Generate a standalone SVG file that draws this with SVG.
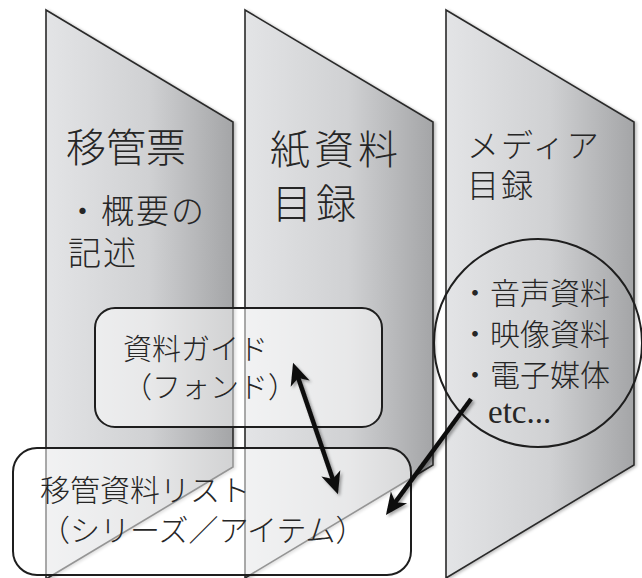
<svg xmlns="http://www.w3.org/2000/svg" width="642" height="578" viewBox="0 0 642 578">
<style>
.panel{fill:url(#pg);stroke:#2b2b2b;stroke-width:1.6;stroke-linejoin:miter}
.t{font-family:"Noto Sans CJK JP","Noto Sans CJK SC",sans-serif;fill:#262626;font-weight:300}
.lat{font-family:"Liberation Serif",serif;fill:#262626}
.box{fill:#ffffff;fill-opacity:0.5;stroke:#1e1e1e;stroke-width:2}
.ring{fill:none;stroke:#1e1e1e;stroke-width:2}
.conn{fill:none;stroke:#111;stroke-width:4.5;marker-end:url(#ah);filter:url(#sh)}
</style>
<defs>
<linearGradient id="pg" x1="0" y1="0" x2="1" y2="0">
<stop offset="0" stop-color="#e3e4e6"/>
<stop offset="0.55" stop-color="#d0d1d3"/>
<stop offset="1" stop-color="#a4a5a7"/>
</linearGradient>
<filter id="sh" x="-20%" y="-20%" width="140%" height="140%">
<feDropShadow dx="2" dy="2" stdDeviation="1.8" flood-color="#000" flood-opacity="0.35"/>
</filter>
<filter id="psh" x="-10%" y="-10%" width="120%" height="120%">
<feDropShadow dx="2" dy="1" stdDeviation="1.5" flood-color="#000" flood-opacity="0.25"/>
</filter>
<marker id="ah" viewBox="-18 -12 25 24" markerWidth="25" markerHeight="24" refX="0" refY="0" orient="auto-start-reverse" markerUnits="userSpaceOnUse">
<path d="M6,0 L-16,-10 L-10,0 L-16,10 Z" fill="#111"/>
</marker>
</defs>
<rect width="642" height="578" fill="#ffffff"/>

<g id="panel-transfer-form">
<path class="panel" filter="url(#psh)" d="M46,10 L233,122 L233,467 L46,579 Z"/>
<text class="t" x="66" y="162" font-size="40">移管票</text>
<text class="t" x="66" y="223" font-size="33" letter-spacing="2">・概要の</text>
<text class="t" x="68" y="265" font-size="33" letter-spacing="2">記述</text>
</g>

<g id="panel-paper-catalog">
<path class="panel" filter="url(#psh)" d="M245,10 L433,122 L433,465 L245,578 Z"/>
<text class="t" x="270" y="164" font-size="40" letter-spacing="4">紙資料</text>
<text class="t" x="272" y="218" font-size="40" letter-spacing="4">目録</text>
</g>

<g id="panel-media-catalog">
<path class="panel" filter="url(#psh)" d="M446,10 L634,122 L634,465 L446,578 Z"/>
<text class="t" x="467" y="157" font-size="32" letter-spacing="2">メディア</text>
<text class="t" x="467" y="197" font-size="32" letter-spacing="2">目録</text>
</g>

<g id="media-types">
<circle class="ring" cx="538" cy="343" r="104"/>
<text class="t" x="460" y="304" font-size="30">・音声資料</text>
<text class="t" x="460" y="345" font-size="30">・映像資料</text>
<text class="t" x="460" y="386" font-size="30">・電子媒体</text>
<text class="lat" x="488" y="423" font-size="33">etc...</text>
</g>

<g id="guide-box">
<rect class="box" x="95" y="308" width="287" height="119" rx="20" ry="20"/>
<text class="t" x="123" y="360" font-size="29">資料ガイド</text>
<text class="t" x="123" y="398" font-size="29">（フォンド）</text>
</g>

<g id="list-box">
<rect class="box" x="13" y="448" width="398" height="127" rx="24" ry="24"/>
<text class="t" x="40" y="501" font-size="30">移管資料リスト</text>
<text class="t" x="40" y="541" font-size="30">（シリーズ／アイテム）</text>
</g>

<g id="connectors">
<line class="conn" x1="295" y1="368.5" x2="336" y2="488.5" style="marker-start:url(#ah)"/>
<line class="conn" x1="471" y1="399" x2="389.5" y2="510.2"/>
</g>
</svg>
